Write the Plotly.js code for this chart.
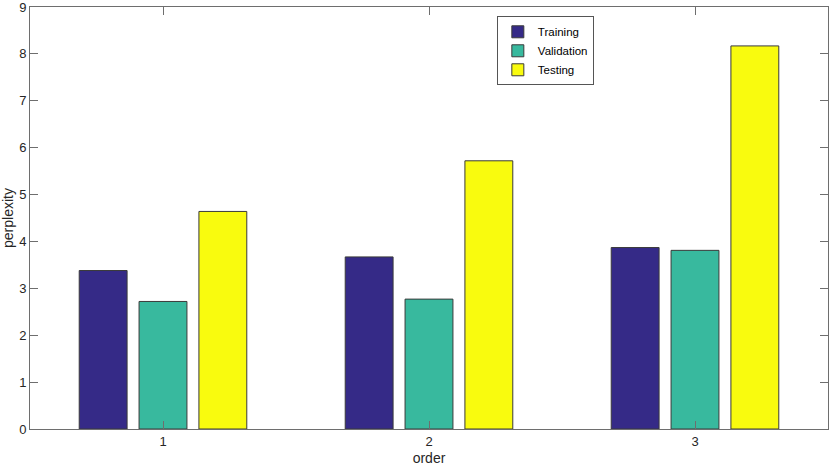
<!DOCTYPE html>
<html>
<head>
<meta charset="utf-8">
<script src="https://cdn.plot.ly/plotly-3.0.1.min.js"></script>
<style>
  html, body { margin: 0; padding: 0; background: #fff; }
  #chart { width: 830px; height: 466px; }
</style>
</head>
<body>
<div id="chart"></div>
<script>
// perplexity per model order
const orders = [1, 2, 3];
const training = [3.38, 3.67, 3.87];
const validation = [2.72, 2.77, 3.81];
const testing = [4.64, 5.72, 8.17];

const seriesNames = ['Training', 'Validation', 'Testing'];
const seriesColors = ['#352a87', '#38b99e', '#f9fb0e'];
const yTicks = [0, 1, 2, 3, 4, 5, 6, 7, 8, 9];

const axisColor = '#6e6e6e';
const font = {family: 'Liberation Sans, Arial, sans-serif', size: 13, color: '#262626'};

const traces = [training, validation, testing].map((vals, i) => ({
    type: 'bar',
    name: seriesNames[i],
    x: orders,
    y: vals,
    marker: {color: seriesColors[i], line: {color: '#3a3a3a', width: 1}},
    hoverinfo: 'none'
}));

const layout = {
    width: 830, height: 466,
    margin: {l: 30, r: 2, t: 7, b: 37},
    paper_bgcolor: '#fff', plot_bgcolor: '#fff',
    font: font,
    barmode: 'group',
    bargap: 0.325,
    bargroupgap: 0.2,
    showlegend: true,
    legend: {
        x: 0.585, y: 0.978, xanchor: 'left', yanchor: 'top',
        bgcolor: '#fff', bordercolor: '#555', borderwidth: 1,
        font: {family: font.family, size: 11.5, color: '#000'},
        tracegroupgap: 0, itemwidth: 30
    },
    xaxis: {
        range: [0.5, 3.5],
        tickvals: orders, ticktext: orders.map(String),
        ticks: 'inside', ticklen: 8, tickcolor: axisColor,
        showline: true, linecolor: axisColor, linewidth: 1, mirror: 'ticks',
        showgrid: false, zeroline: false,
        tickfont: {size: 13},
        title: {text: 'order', font: {size: 14}, standoff: 9}
    },
    yaxis: {
        range: [0, 9],
        tickvals: yTicks,
        ticklabeloverflow: 'allow',
        ticks: 'inside', ticklen: 8, tickcolor: axisColor,
        showline: true, linecolor: axisColor, linewidth: 1, mirror: 'ticks',
        showgrid: false, zeroline: false,
        tickfont: {size: 13},
        title: {text: 'perplexity', font: {size: 14}, standoff: 2}
    }
};

Plotly.newPlot('chart', traces, layout, {displayModeBar: false, staticPlot: true});
</script>
</body>
</html>
